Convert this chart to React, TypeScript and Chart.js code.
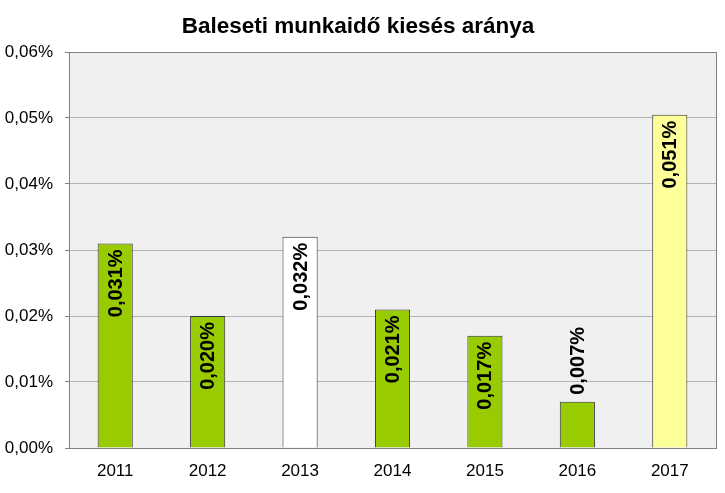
import React, { useEffect, useRef } from "react";
import { Chart, registerables } from "chart.js";

Chart.register(...registerables);

const categories = ["2011", "2012", "2013", "2014", "2015", "2016", "2017"];
const values = [0.031, 0.02, 0.032, 0.021, 0.017, 0.007, 0.0505];
const valueLabels = ["0,031%", "0,020%", "0,032%", "0,021%", "0,017%", "0,007%", "0,051%"];
const barColors = ["#99CC00", "#99CC00", "#FFFFFF", "#99CC00", "#99CC00", "#99CC00", "#FFFF99"];
const titleText = "Baleseti munkaidő kiesés aránya";

const FONT = "'Liberation Sans', Arial, sans-serif";

const plotBg = {
  id: "plotBg",
  beforeDraw(chart: any) {
    const { ctx, chartArea: a } = chart;
    ctx.save();
    ctx.fillStyle = "#F0F0F0";
    ctx.fillRect(a.left, a.top, a.right - a.left, a.bottom - a.top);
    ctx.restore();
  },
  afterDatasetsDraw(chart: any) {
    const { ctx, chartArea: a } = chart;
    ctx.save();
    ctx.strokeStyle = "#808080";
    ctx.lineWidth = 1;
    ctx.strokeRect(Math.round(a.left) + 0.5, Math.round(a.top) + 0.5, Math.round(a.right - a.left), Math.round(a.bottom - a.top));
    // value labels
    const meta = chart.getDatasetMeta(0);
    ctx.font = "bold 20px " + FONT;
    ctx.fillStyle = "#000";
    meta.data.forEach((bar: any, i: number) => {
      const text = valueLabels[i];
      const w = ctx.measureText(text).width;
      const h = bar.base - bar.y;
      ctx.save();
      ctx.translate(bar.x, 0);
      ctx.rotate(-Math.PI / 2);
      ctx.textBaseline = "middle";
      if (h > w + 14) {
        ctx.textAlign = "right";
        ctx.fillText(text, -(bar.y + 6), 1);
      } else {
        ctx.textAlign = "left";
        ctx.fillText(text, -(bar.y - 7), 1);
      }
      ctx.restore();
    });
    ctx.restore();
  },
};

export default function App() {
  const ref = useRef<HTMLCanvasElement>(null);
  useEffect(() => {
    const chart = new Chart(ref.current!, {
      type: "bar",
      data: {
        labels: categories,
        datasets: [
          {
            data: values,
            backgroundColor: barColors,
            borderColor: "#333",
            borderWidth: 1,
            barPercentage: 0.38,
            categoryPercentage: 1,
          },
        ],
      },
      options: {
        animation: false,
        responsive: false,
        maintainAspectRatio: false,
        layout: { padding: { left: 0, right: 9, top: 0, bottom: 1 } },
        plugins: {
          legend: { display: false },
          tooltip: { enabled: false },
          title: {
            display: true,
            text: titleText,
            color: "#000",
            font: { family: FONT, size: 22.5, weight: "bold" },
            padding: { top: 13, bottom: 12 },
          },
        },
        scales: {
          x: {
            grid: { display: false, drawTicks: false },
            border: { display: true, color: "#808080" },
            ticks: {
              color: "#000",
              font: { family: FONT, size: 17 },
              padding: 13,
            },
            afterFit: (s: any) => {
              s.height = 44;
            },
          },
          y: {
            min: 0,
            max: 0.06,
            ticks: {
              stepSize: 0.01,
              color: "#000",
              font: { family: FONT, size: 17 },
              padding: 12,
              callback: (v: any) => Number(v).toFixed(2).replace(".", ",") + "%",
            },
            grid: { color: "#B4B4B4", tickLength: 4, tickColor: "#808080" },
            border: { display: true, color: "#808080" },
            afterFit: (s: any) => {
              s.width = 69;
            },
          },
        },
      },
      plugins: [plotBg],
    });
    return () => chart.destroy();
  }, []);
  return (
    <div style={{ position: "fixed", left: 0, top: 0, width: 725, height: 493, background: "#fff" }}>
      <canvas ref={ref} width={725} height={493} style={{ display: "block" }} />
    </div>
  );
}
